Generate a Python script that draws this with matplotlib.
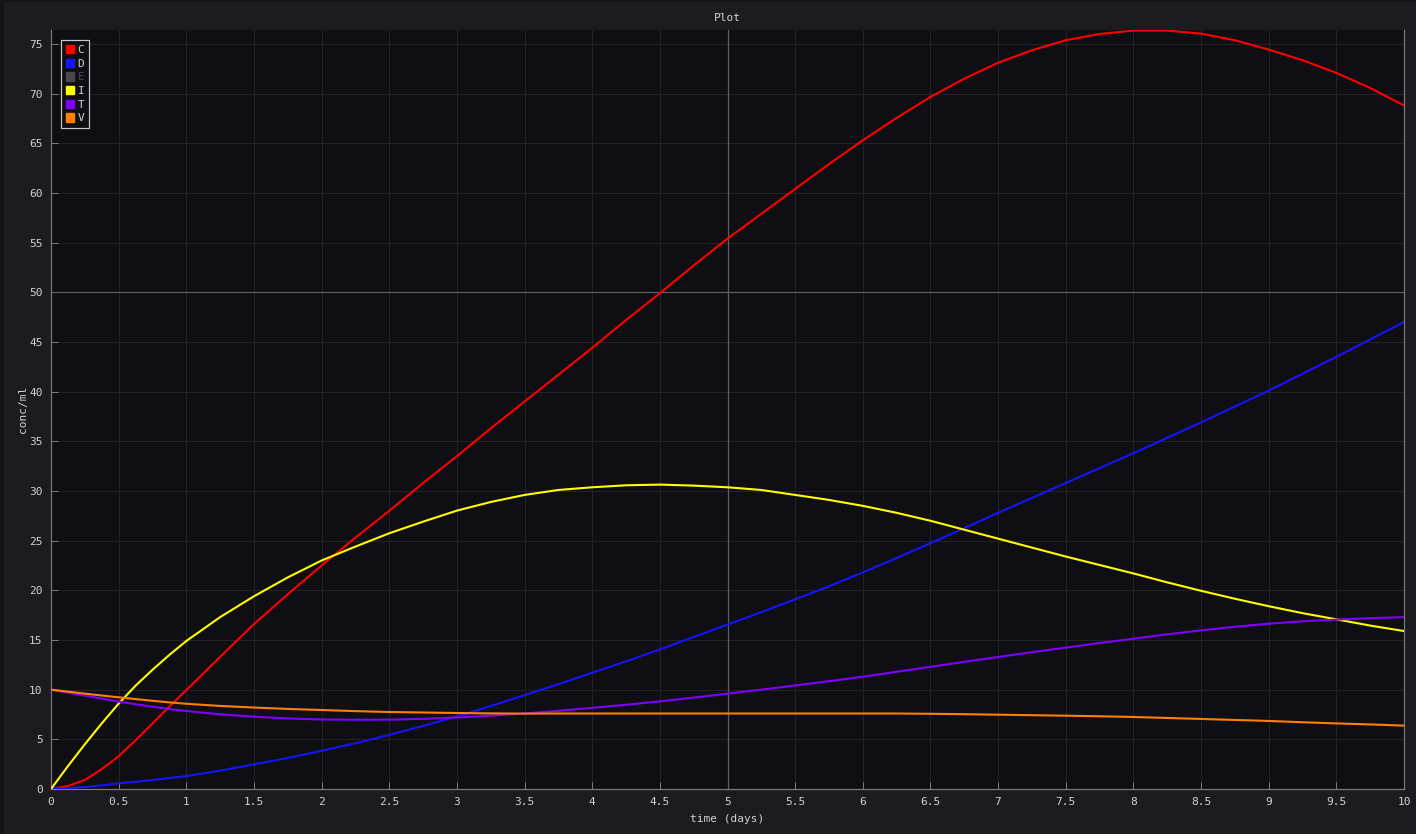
import matplotlib
matplotlib.use("Agg")
import matplotlib.pyplot as plt
from matplotlib.patches import Patch, Rectangle

# ---- data (every 0.125 day up to day 1, then every 0.25 day) ----
t = [i * 0.125 for i in range(8)] + [1 + i * 0.25 for i in range(37)]
C = [0, 0.3, 0.9, 2.0, 3.3, 4.9, 6.6, 8.3,
     9.95, 13.3, 16.6, 19.6, 22.5, 25.3, 28.0, 30.8, 33.5, 36.3,
     39.0, 41.7, 44.4, 47.2, 49.9, 52.7, 55.4, 57.9, 60.4, 62.9, 65.3, 67.55, 69.66,
     71.5, 73.1, 74.36, 75.37, 76.0, 76.34, 76.34, 76.04, 75.37, 74.43, 73.36, 72.08,
     70.57, 68.8]
D = [0, 0.08, 0.2, 0.37, 0.57, 0.72, 0.9, 1.1,
     1.3, 1.85, 2.48, 3.12, 3.85, 4.6, 5.45, 6.35, 7.3, 8.35,
     9.45, 10.55, 11.7, 12.85, 14.05, 15.3, 16.55, 17.8, 19.1, 20.4, 21.8, 23.25,
     24.75, 26.25, 27.8, 29.3, 30.8, 32.3, 33.8, 35.35, 36.9, 38.5, 40.1, 41.8, 43.5,
     45.25, 47.0]
I = [0, 2.3, 4.5, 6.6, 8.6, 10.4, 12.0, 13.5,
     14.9, 17.3, 19.4, 21.3, 23.0, 24.4, 25.74, 26.91, 28.02,
     28.89, 29.6, 30.1, 30.37, 30.57, 30.64, 30.54, 30.37, 30.1, 29.6, 29.1, 28.5,
     27.8, 27.0, 26.1, 25.2, 24.3, 23.4, 22.55, 21.7, 20.8, 19.95, 19.15, 18.4, 17.7,
     17.08, 16.45, 15.9]
T = [10, 9.7, 9.4, 9.1, 8.8, 8.53, 8.28, 8.05,
     7.85, 7.52, 7.28, 7.1, 7.0, 6.97, 6.98, 7.06, 7.2, 7.38,
     7.6, 7.87, 8.17, 8.48, 8.82, 9.2, 9.6, 10.0, 10.42, 10.85, 11.3, 11.8, 12.3,
     12.8, 13.29, 13.77, 14.23, 14.7, 15.13, 15.57, 15.97, 16.33, 16.64, 16.88, 17.05,
     17.2, 17.3]
V = [10, 9.8, 9.6, 9.41, 9.23, 9.05, 8.88, 8.72,
     8.58, 8.36, 8.2, 8.06, 7.95, 7.84, 7.75, 7.7, 7.65, 7.61,
     7.59, 7.6, 7.6, 7.6, 7.6, 7.6, 7.6, 7.6, 7.6, 7.6, 7.6, 7.6, 7.57, 7.53, 7.48,
     7.43, 7.38, 7.32, 7.25, 7.15, 7.05, 6.95, 6.85, 6.72, 6.6, 6.5, 6.38]

series_names = ["C", "D", "E", "I", "T", "V"]
series_colors = ["#ff0000", "#1414ff", "#48484d", "#ffff00", "#8000ff", "#ff8000"]
series_visible = [True, True, False, True, True, True]
series_data = {"C": C, "D": D, "I": I, "T": T, "V": V}

x_ticks = [i * 0.5 for i in range(21)]
x_tick_labels = ["0", "0.5", "1", "1.5", "2", "2.5", "3", "3.5", "4", "4.5", "5",
                 "5.5", "6", "6.5", "7", "7.5", "8", "8.5", "9", "9.5", "10"]
y_ticks = list(range(0, 80, 5))

# ---- style ----
W, H = 1416, 834
BG = "#1c1b20"
PLOT_BG = "#0f0e13"
TXT = "#d2d2d6"
MONO = ["DejaVu Sans Mono"]
PX = 0.72  # one pixel in points at dpi 100

fig = plt.figure(figsize=(W / 100, H / 100), dpi=100, facecolor=BG)
fig.patches.append(Rectangle((0, 0), 4 / W, 1, transform=fig.transFigure,
                             facecolor="#141318", edgecolor="none", zorder=-1))
fig.patches.append(Rectangle((0, 1 - 2 / H), 1, 2 / H, transform=fig.transFigure,
                             facecolor="#141318", edgecolor="none", zorder=-1))

L, R, B, TP = 51, 1404, 789, 30
ax = fig.add_axes([L / W, 1 - B / H, (R - L) / W, (B - TP) / H])
ax.set_facecolor(PLOT_BG)

ax.set_xlim(0, 10)
ax.set_ylim(0, 76.4)
ax.set_xticks(x_ticks)
ax.set_xticklabels(x_tick_labels)
ax.set_yticks(y_ticks)
ax.tick_params(axis="both", colors="#7c7c82", labelcolor=TXT, labelsize=8,
               direction="in", length=5, width=PX, pad=6)
for lab in ax.get_xticklabels() + ax.get_yticklabels():
    lab.set_family(MONO)

ax.grid(True, color="#232228", linewidth=PX)
ax.set_axisbelow(True)

for side in ["left", "bottom", "right"]:
    ax.spines[side].set_color("#7a7a80")
    ax.spines[side].set_linewidth(PX * 1.2)
ax.spines["top"].set_visible(False)

# hover crosshair
ax.axvline(5, color="#5e5e64", linewidth=PX * 1.2, zorder=1.5)
ax.axhline(50, color="#5e5e64", linewidth=PX * 1.2, zorder=1.5)

for name, col, vis in zip(series_names, series_colors, series_visible):
    if vis:
        ax.plot(t, series_data[name], color=col, linewidth=1.5, zorder=3,
                solid_capstyle="round", solid_joinstyle="round")

ax.set_xlabel("time (days)", color=TXT, fontsize=8, family=MONO, labelpad=5)
ax.set_ylabel("conc/ml", color=TXT, fontsize=8, family=MONO, labelpad=1)
fig.text((L + R) / 2 / W, 1 - 18 / H, "Plot", color=TXT, fontsize=8, family=MONO,
         ha="center", va="center")

handles = [Patch(facecolor=c, edgecolor=c) for c in series_colors]
leg = ax.legend(handles, series_names, loc="upper left",
                bbox_to_anchor=(10 / (R - L), 1 - 10 / (B - TP)),
                prop={"family": MONO, "size": 8}, frameon=True, fancybox=False,
                framealpha=1, facecolor=PLOT_BG, edgecolor="#c8c8cc",
                handlelength=0.75, handleheight=0.75, handletextpad=0.3,
                labelspacing=0.33, borderpad=0.45, borderaxespad=0)
leg.get_frame().set_linewidth(PX * 1.2)
for txt, vis in zip(leg.get_texts(), series_visible):
    txt.set_color(TXT if vis else "#4a4a50")

fig.savefig("out.png", dpi=100, facecolor=BG)
